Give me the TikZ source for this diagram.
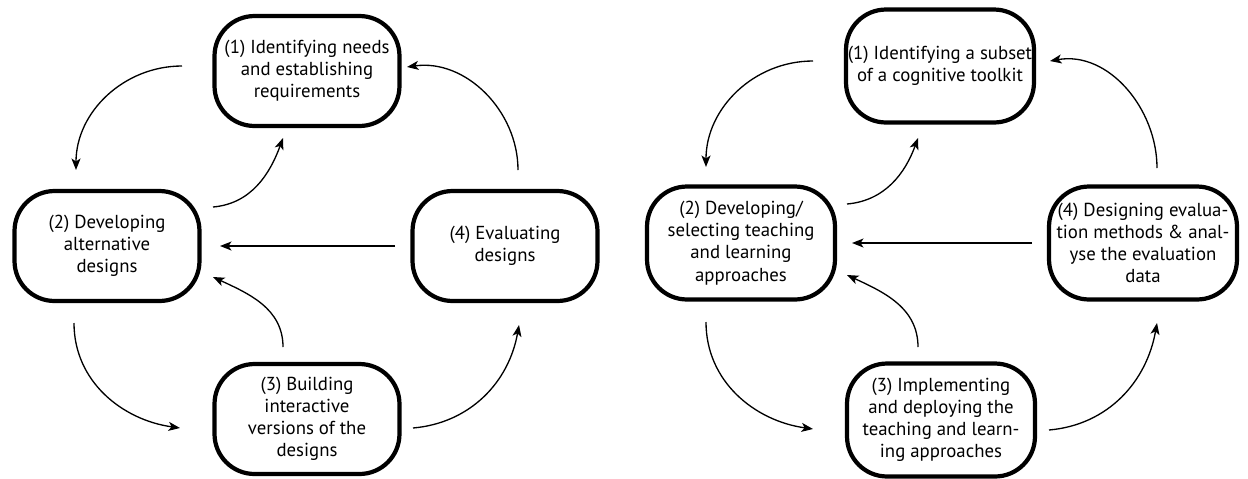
\documentclass[tikz,border=0pt]{standalone}
\usepackage{fontspec}
\setmainfont{PT Sans}
\usetikzlibrary{calc,arrows.meta}

\begin{document}
\begin{tikzpicture}[x=0.02cm,y=0.02cm,font=\fontsize{10.7}{12.6}\selectfont,
    stage/.style={draw,line width=2.4pt,rounded corners=0.8cm,align=center,inner sep=0pt},
    flow/.style={line width=0.75pt,-{Stealth[length=2.3mm,width=1.8mm,inset=0.6mm]}}]
  \useasboundingbox (0,0) rectangle (1248,-478);
  % ---------------- left cycle ----------------
  \foreach \n/\x/\y/\t in {l1/307/71/{(1) Identifying needs\\and establishing\\requirements},
      l2/107/246/{(2) Developing\\alternative\\designs},
      l3/307/419/{(3) Building\\interactive\\versions of the\\designs},
      l4/505/246/{(4) Evaluating\\designs}}{
    \node[stage,minimum width=3.7cm,minimum height=2.2cm] (\n) at (\x,-\y) {\t};
  }
  \draw[flow] ($(l1)+(-125,5)$) to[out=180,in=90] ($(l2)+(-31,76)$);
  \draw[flow] ($(l2)+(106,39)$) to[out=5,in=-110] ($(l1)+(-24,-67)$);
  \draw[flow] ($(l4)+(13,76)$) to[out=90,in=8] ($(l1)+(100,4)$);
  \draw[flow] ($(l4)+(-110,0)$) -- ($(l2)+(113,0)$);
  \draw[flow] ($(l2)+(-33,-77)$) to[out=-90,in=172] ($(l3)+(-127,-9)$);
  \draw[flow] ($(l3)+(-24,72)$) to[out=90,in=-25] ($(l2)+(106,-31)$);
  \draw[flow] ($(l3)+(106,-9)$) to[out=5,in=-100] ($(l4)+(14,-79)$);
  % ---------------- right cycle ----------------
  \foreach \n/\x/\y/\t in {r1/940/66/{(1) Identifying a subset\\of a cognitive toolkit},
      r2/741/243/{(2) Developing/\\selecting teaching\\and learning\\approaches},
      r3/941/420/{(3) Implementing\\and deploying the\\teaching and learn-\\ing approaches},
      r4/1143/243/{(4) Designing evalua-\\tion methods \& anal-\\yse the evaluation\\data}}{
    \node[stage,minimum width=3.76cm,minimum height=2.26cm] (\n) at (\x,-\y) {\t};
  }
  \draw[flow] ($(r1)+(-127,5)$) to[out=180,in=90] ($(r2)+(-35,76)$);
  \draw[flow] ($(r2)+(106,39)$) to[out=5,in=-110] ($(r1)+(-22,-72)$);
  \draw[flow] ($(r4)+(14,75)$) to[out=90,in=10] ($(r1)+(110,5)$);
  \draw[flow] ($(r4)+(-111,0)$) -- ($(r2)+(111,0)$);
  \draw[flow] ($(r2)+(-35,-79)$) to[out=-90,in=172] ($(r3)+(-128,-9)$);
  \draw[flow] ($(r3)+(-23,73)$) to[out=90,in=-25] ($(r2)+(106,-32)$);
  \draw[flow] ($(r3)+(108,-10)$) to[out=5,in=-100] ($(r4)+(14,-80)$);
\end{tikzpicture}
\end{document}
